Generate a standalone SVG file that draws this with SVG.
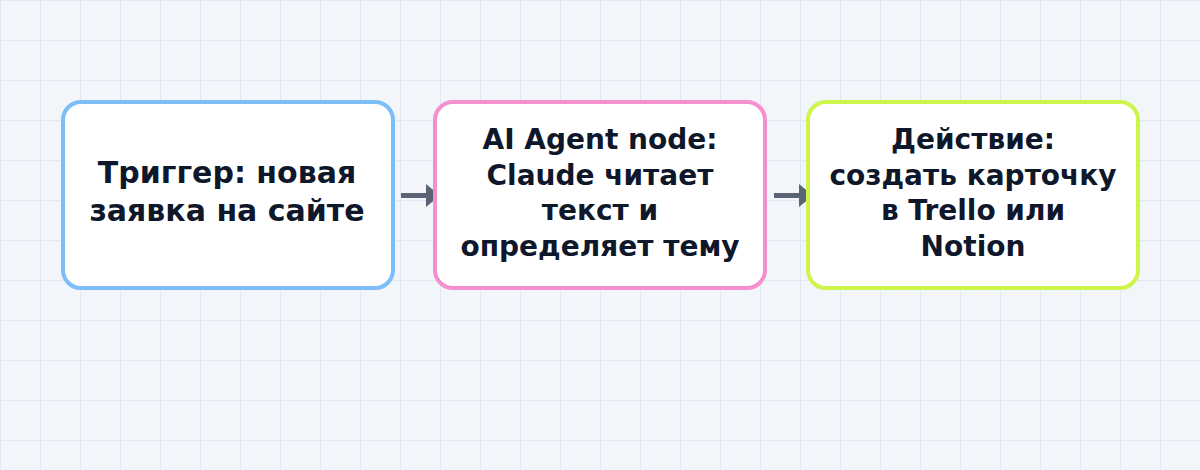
<svg xmlns="http://www.w3.org/2000/svg" width="1200" height="470" viewBox="0 0 1200 470">
<defs>
<pattern id="grid" x="0" y="0" width="40" height="40" patternUnits="userSpaceOnUse">
<path d="M40.5 0 V40 M0 0.5 H40" fill="none" stroke="#e1e8f2" stroke-width="1"/>
<path d="M0.5 0 V40" fill="none" stroke="#e1e8f2" stroke-width="1"/>
</pattern>
<style>
.box{fill:#ffffff;stroke-width:4}
.lbl{font-family:"DejaVu Sans","Noto Sans",sans-serif;font-weight:bold;font-size:28px;fill:#0f172a;text-anchor:middle}
.big{font-size:30px}
.conn{stroke:#5b6475;stroke-width:5;fill:none}
.head{fill:#5b6475}
</style>
</defs>
<rect width="1200" height="470" fill="#f2f6fa"/>
<rect width="1200" height="470" fill="url(#grid)"/>
<g id="connectors">
<path class="conn" d="M401 195.5 H427"/>
<polygon class="head" points="426,184 426,207 440,195.5"/>
<path class="conn" d="M774 195.5 H800"/>
<polygon class="head" points="799,184 799,207 813,195.5"/>
</g>
<g id="node-trigger">
<rect class="box" x="63" y="102" width="330" height="186" rx="18" stroke="#7ebef8"/>
<text class="lbl big" x="227" y="183">Триггер: новая</text>
<text class="lbl big" x="227" y="221">заявка на сайте</text>
</g>
<g id="node-agent">
<rect class="box" x="435" y="102" width="330" height="186" rx="18" stroke="#f590cf"/>
<text class="lbl" x="600" y="149">AI Agent node:</text>
<text class="lbl" x="600" y="184.5">Claude читает</text>
<text class="lbl" x="600" y="220">текст и</text>
<text class="lbl" x="600" y="255.5">определяет тему</text>
</g>
<g id="node-action">
<rect class="box" x="808" y="102" width="330" height="186" rx="18" stroke="#cdf54c"/>
<text class="lbl" x="973" y="149">Действие:</text>
<text class="lbl" x="973" y="184.5">создать карточку</text>
<text class="lbl" x="973" y="220">в Trello или</text>
<text class="lbl" x="973" y="255.5">Notion</text>
</g>
</svg>
